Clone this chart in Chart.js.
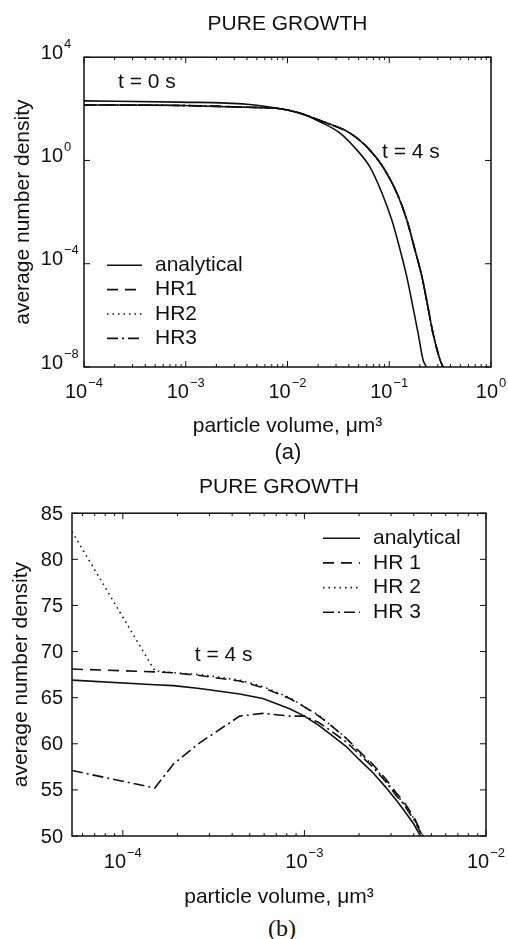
<!DOCTYPE html>
<html>
<head>
<meta charset="utf-8">
<script src="https://cdn.jsdelivr.net/npm/chart.js@4.4.1/dist/chart.umd.min.js"></script>
<style>
  html, body { margin: 0; padding: 0; background: #fff; }
  body { position: relative; width: 508px; height: 939px; overflow: hidden; font-family: 'Liberation Sans', Arial, sans-serif; color: #111; }
  canvas { position: absolute; left: 0; }
  #chartA { top: 0; }
  #chartB { top: 462px; }
  .cap { position: absolute; width: 100px; text-align: center; line-height: 1; }
  #capA { left: 238px; top: 441px; font-size: 22px; }
  #capB { left: 232px; top: 916px; font-size: 24px; font-family: 'Liberation Serif', 'DejaVu Serif', serif; }
</style>
</head>
<body>
<canvas id="chartA" width="508" height="445"></canvas>
<div class="cap" id="capA">(a)</div>
<canvas id="chartB" width="508" height="450"></canvas>
<div class="cap" id="capB">(b)</div>
<script>
// (a) log-log view, t = 0 s and t = 4 s
const volA0 = [1e-4, 8.77e-4, 4.0e-3, 8.43e-3, 1.33e-2, 2.08e-2, 3.28e-2, 4.82e-2, 6.47e-2, 8.49e-2, 0.106, 0.128, 0.149, 0.171, 0.192, 0.215, 0.230, 0.240];
const densA0 = [204, 182, 151, 101, 67.6, 31.6, 11.5, 2.51, 0.550, 5.37e-2, 4.90e-3, 3.39e-4, 3.02e-5, 2.09e-6, 2.04e-7, 1.86e-8, 1.0e-8, 5.0e-9];
const volA4 = [1e-4, 8.77e-4, 4.0e-3, 8.43e-3, 1.33e-2, 2.32e-2, 4.11e-2, 6.04e-2, 8.69e-2, 0.119, 0.149, 0.179, 0.210, 0.240, 0.269, 0.316, 0.337, 0.353];
const densA4 = [141, 135, 115, 101, 67.6, 30.2, 11.5, 3.31, 0.550, 5.37e-2, 4.90e-3, 3.39e-4, 3.02e-5, 2.09e-6, 2.04e-7, 1.86e-8, 1.0e-8, 5.0e-9];
const xTicksA = [1e-4, 1e-3, 1e-2, 1e-1, 1];
const yTicksA = [1e-8, 1e-4, 1, 1e4];
const keyA = ['analytical', 'HR1', 'HR2', 'HR3'];

// (b) close-up at t = 4 s
const volB = [5.25e-5, 1.5e-4, 1.9e-4, 2.65e-4, 4.4e-4, 5.9e-4, 8.3e-4, 1.0e-3, 1.2e-3, 1.4e-3, 1.7e-3, 2.0e-3, 2.4e-3, 2.8e-3, 3.2e-3, 3.5e-3, 4.0e-3, 4.5e-3];
const analyticalB = [66.9, 66.4, 66.3, 66.0, 65.4, 64.9, 63.8, 63.0, 62.0, 61.0, 59.7, 58.3, 56.8, 55.3, 53.9, 52.9, 51.3, 49.5];
const hr1B = [68.1, 67.8, 67.7, 67.4, 66.8, 66.1, 64.9, 64.0, 63.0, 62.0, 60.6, 59.2, 57.7, 56.2, 54.7, 53.8, 52.1, 50.0];
const hr2B = [83.0, 67.9, 67.7, 67.5, 66.9, 66.2, 65.0, 64.0, 63.1, 62.0, 60.6, 59.1, 57.6, 56.0, 54.5, 53.6, 51.9, 49.9];
const hr3B = [57.1, 55.2, 57.8, 60.1, 63.0, 63.3, 63.0, 63.0, 62.3, 61.4, 60.2, 58.9, 57.4, 55.9, 54.4, 53.5, 51.8, 49.9];
const xTicksB = [1e-4, 1e-3, 1e-2];
const keyB = ['analytical', 'HR 1', 'HR 2', 'HR 3'];

const ink = '#111';
const family = "'Liberation Sans', Arial, sans-serif";
Chart.defaults.font.family = family;
Chart.defaults.color = ink;

const dashes = { solid: [], dash: [11, 7], dot: [1.5, 4], dashDot: [11, 4, 2, 4] };

function logMinor(min, max) {
  const out = [];
  for (let e = Math.floor(Math.log10(min)); e < Math.ceil(Math.log10(max)); e++) {
    for (let k = 2; k <= 9; k++) {
      const v = k * Math.pow(10, e);
      if (v > min && v < max) out.push(v);
    }
  }
  return out;
}

function series(label, xs, ys, dash, inKey, smooth) {
  return {
    label,
    data: xs.map((v, i) => ({ x: v, y: ys[i] })),
    borderColor: ink,
    borderWidth: 1.6,
    borderDash: dash,
    pointRadius: 0,
    fill: false,
    cubicInterpolationMode: smooth ? 'monotone' : 'default',
    tension: 0,
    inKey
  };
}

// tick label: plain number, or "10" with a raised exponent
function tickText(ctx, v, x, yc, align, isPow) {
  const base = isPow ? '10' : String(v);
  ctx.font = '20px ' + family;
  const w1 = ctx.measureText(base).width;
  let exp = '', w2 = 0;
  if (isPow) {
    exp = String(Math.round(Math.log10(v))).replace('-', '\u2212');
    ctx.font = '13px ' + family;
    w2 = ctx.measureText(exp).width + 1;
  }
  const x0 = align === 'center' ? x - (w1 + w2) / 2 : x - w1;
  ctx.textAlign = 'left';
  ctx.textBaseline = 'middle';
  ctx.font = '20px ' + family;
  ctx.fillText(base, x0, yc);
  if (isPow) {
    ctx.font = '13px ' + family;
    ctx.fillText(exp, x0 + w1 + 1, yc - 9);
  }
}

// box with inward ticks on all four sides, plus tick labels
const framePlugin = {
  id: 'frame',
  afterDatasetsDraw(chart, args, opts) {
    const { ctx, chartArea: a } = chart;
    const x = chart.scales.x, y = chart.scales.y;
    const seg = (x1, y1, x2, y2) => { ctx.moveTo(x1, y1); ctx.lineTo(x2, y2); };
    ctx.save();
    ctx.strokeStyle = ink;
    ctx.lineWidth = 1;
    ctx.beginPath();
    x.ticks.forEach(t => {
      const p = x.getPixelForValue(t.value);
      seg(p, a.bottom, p, a.bottom - 6); seg(p, a.top, p, a.top + 6);
    });
    (opts.xMinor || []).forEach(v => {
      const p = x.getPixelForValue(v);
      seg(p, a.bottom, p, a.bottom - 3); seg(p, a.top, p, a.top + 3);
    });
    y.ticks.forEach(t => {
      const p = y.getPixelForValue(t.value);
      seg(a.left, p, a.left + 6, p); seg(a.right, p, a.right - 6, p);
    });
    ctx.stroke();
    ctx.lineWidth = 1.5;
    ctx.strokeRect(a.left, a.top, a.width, a.height);

    ctx.fillStyle = ink;
    x.ticks.forEach(t => tickText(ctx, t.value, x.getPixelForValue(t.value), a.bottom + opts.xDy, 'center', true));
    y.ticks.forEach(t => tickText(ctx, t.value, a.left - opts.yDx, y.getPixelForValue(t.value) + opts.yDy, 'right', opts.yPow));
    ctx.restore();
  }
};

// legend drawn inside the plot box
const keyPlugin = {
  id: 'key',
  afterDraw(chart, args, opts) {
    const { ctx, chartArea: a } = chart;
    ctx.save();
    ctx.font = '21px ' + family;
    ctx.fillStyle = ink;
    ctx.strokeStyle = ink;
    ctx.textBaseline = 'middle';
    chart.data.datasets.filter(d => d.inKey).forEach((d, i) => {
      const yy = a.top + opts.top + i * opts.step;
      const x0 = a.left + opts.left;
      ctx.lineWidth = d.borderWidth;
      ctx.setLineDash(d.borderDash);
      ctx.beginPath();
      ctx.moveTo(x0, yy);
      ctx.lineTo(x0 + opts.len, yy);
      ctx.stroke();
      ctx.setLineDash([]);
      ctx.fillText(opts.labels[i], x0 + opts.len + opts.gap, yy);
    });
    ctx.restore();
  }
};

// "t = ... s" notes, placed in data coordinates
const notePlugin = {
  id: 'note',
  afterDraw(chart, args, opts) {
    const { ctx } = chart;
    const x = chart.scales.x, y = chart.scales.y;
    ctx.save();
    ctx.font = '21px ' + family;
    ctx.fillStyle = ink;
    ctx.textBaseline = 'middle';
    opts.items.forEach(n => ctx.fillText(n.text, x.getPixelForValue(n.x), y.getPixelForValue(n.y)));
    ctx.restore();
  }
};

const plain = { display: false, drawTicks: false };
const fixHeight = h => s => { s.height = h; s.paddingLeft = 0; s.paddingRight = 0; };
const fixWidth = w => s => { s.width = w; s.paddingTop = 0; s.paddingBottom = 0; };

new Chart(document.getElementById('chartA'), {
  type: 'line',
  data: {
    datasets: [
      series('analytical t = 0 s', volA0, densA0, dashes.solid, false, true),
      series('analytical', volA4, densA4, dashes.solid, true, true),
      series('HR1', volA4, densA4, dashes.dash, true, true),
      series('HR2', volA4, densA4, dashes.dot, true, true),
      series('HR3', volA4, densA4, dashes.dashDot, true, true)
    ]
  },
  options: {
    responsive: false,
    animation: false,
    events: [],
    layout: { padding: { left: 0, right: 17, top: 0, bottom: 0 } },
    plugins: {
      legend: { display: false },
      tooltip: { enabled: false },
      title: { display: true, text: 'PURE GROWTH', fullSize: false, color: ink, font: { size: 21, weight: 'normal' }, padding: { top: 12, bottom: 20 } },
      frame: { xMinor: logMinor(1e-4, 1), xDy: 25, yDx: 21, yDy: -4, yPow: true },
      key: { labels: keyA, left: 23, top: 208, step: 24.4, len: 35, gap: 13 },
      note: { items: [{ text: 't = 0 s', x: 2.16e-4, y: 1.07e3 }, { text: 't = 4 s', x: 0.085, y: 2.1 }] }
    },
    scales: {
      x: {
        type: 'logarithmic', min: 1e-4, max: 1,
        afterBuildTicks: s => { s.ticks = xTicksA.map(v => ({ value: v })); },
        afterFit: fixHeight(78),
        grid: plain, border: { display: false },
        ticks: { display: false },
        title: { display: true, text: 'particle volume, \u03BCm\u00B3', font: { size: 21 }, padding: { top: 0, bottom: 6 } }
      },
      y: {
        type: 'logarithmic', min: 1e-8, max: 1e4,
        afterBuildTicks: s => { s.ticks = yTicksA.map(v => ({ value: v })); },
        afterFit: fixWidth(84),
        grid: plain, border: { display: false },
        ticks: { display: false },
        title: { display: true, text: 'average number density', font: { size: 21 }, padding: { top: 11, bottom: 0 } }
      }
    }
  },
  plugins: [framePlugin, keyPlugin, notePlugin]
});

new Chart(document.getElementById('chartB'), {
  type: 'line',
  data: {
    datasets: [
      series('analytical', volB, analyticalB, dashes.solid, true, false),
      series('HR 1', volB, hr1B, dashes.dash, true, false),
      series('HR 2', volB, hr2B, dashes.dot, true, false),
      series('HR 3', volB, hr3B, dashes.dashDot, true, false)
    ]
  },
  options: {
    responsive: false,
    animation: false,
    events: [],
    layout: { padding: { left: 0, right: 22, top: 0, bottom: 0 } },
    plugins: {
      legend: { display: false },
      tooltip: { enabled: false },
      title: { display: true, text: 'PURE GROWTH', fullSize: false, color: ink, font: { size: 21, weight: 'normal' }, padding: { top: 13, bottom: 13 } },
      frame: { xMinor: logMinor(5.25e-5, 1e-2), xDy: 26, yDx: 9, yDy: 1, yPow: false },
      key: { labels: keyB, left: 251, top: 25, step: 24.7, len: 37, gap: 13 },
      note: { items: [{ text: 't = 4 s', x: 2.49e-4, y: 69.6 }] }
    },
    scales: {
      x: {
        type: 'logarithmic', min: 5.25e-5, max: 1e-2,
        afterBuildTicks: s => { s.ticks = xTicksB.map(v => ({ value: v })); },
        afterFit: fixHeight(76),
        grid: plain, border: { display: false },
        ticks: { display: false },
        title: { display: true, text: 'particle volume, \u03BCm\u00B3', font: { size: 21 }, padding: { top: 0, bottom: 2 } }
      },
      y: {
        type: 'linear', min: 50, max: 85,
        afterFit: fixWidth(72),
        grid: plain, border: { display: false },
        ticks: { display: false, stepSize: 5 },
        title: { display: true, text: 'average number density', font: { size: 21 }, padding: { top: 9, bottom: 0 } }
      }
    }
  },
  plugins: [framePlugin, keyPlugin, notePlugin]
});
</script>
</body>
</html>
